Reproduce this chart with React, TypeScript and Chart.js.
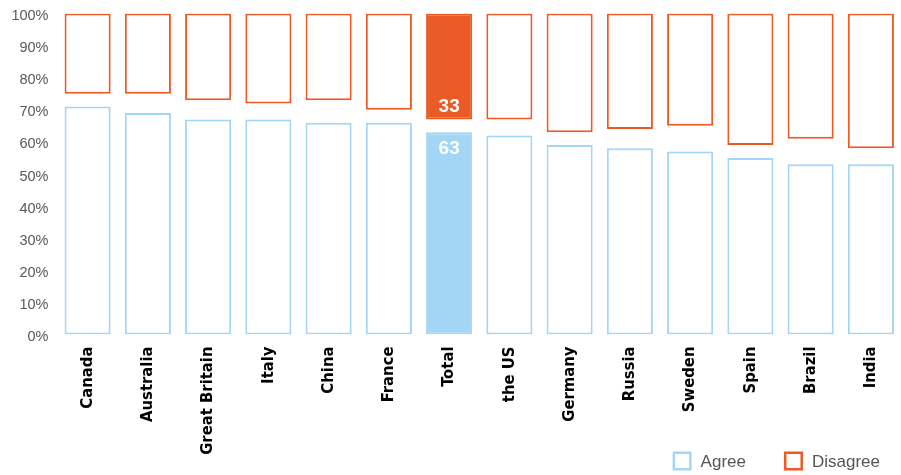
import React, { useEffect, useRef } from "react";
import { Chart, registerables } from "chart.js";

Chart.register(...registerables);

const categories = ["Canada", "Australia", "Great Britain", "Italy", "China", "France", "Total", "the US", "Germany", "Russia", "Sweden", "Spain", "Brazil", "India"];
const agree = [71, 69, 67, 67, 66, 66, 63, 62, 59, 58, 57, 55, 53, 53];
const disagree = [25, 25, 27, 28, 27, 30, 33, 33, 37, 36, 35, 41, 39, 42];
const yTicks = [0, 10, 20, 30, 40, 50, 60, 70, 80, 90, 100];
const seriesNames = ["Agree", "Disagree"];
const highlight = "Total";

const BLUE = "#A3D6F4";
const ORANGE = "#EA5B25";
const LABEL_FONT = "'Liberation Sans', Arial, sans-serif";
const CAT_FONT = "'DejaVu Sans Condensed', 'DejaVu Sans', sans-serif";

const totalLabels = {
  id: "totalLabels",
  afterDatasetsDraw(chart: any) {
    const idx = categories.indexOf(highlight);
    if (idx < 0) return;
    const ctx = chart.ctx;
    ctx.save();
    ctx.fillStyle = "#ffffff";
    ctx.font = `bold 19px ${LABEL_FONT}`;
    ctx.textAlign = "center";
    ctx.textBaseline = "middle";
    const a = chart.getDatasetMeta(0).data[idx];
    const d = chart.getDatasetMeta(1).data[idx];
    ctx.fillText(String(Math.round(agree[idx])), a.x, a.y + 16);
    ctx.fillText(String(Math.round(disagree[idx])), d.x, d.base - 13);
    ctx.restore();
  },
};

const customLegend = {
  id: "customLegend",
  afterDraw(chart: any) {
    const ctx = chart.ctx;
    ctx.save();
    ctx.font = `17px ${LABEL_FONT}`;
    ctx.textBaseline = "middle";
    ctx.textAlign = "left";
    const colors = [BLUE, ORANGE];
    const box = 19;
    const gapText = 9;
    const gapItem = 38;
    const widths = seriesNames.map((n) => box + gapText + ctx.measureText(n).width);
    const total = widths.reduce((s, w) => s + w, 0) + gapItem * (seriesNames.length - 1);
    let x = chart.width - 21 - total;
    const yc = 461;
    seriesNames.forEach((n, i) => {
      ctx.fillStyle = "#ffffff";
      ctx.fillRect(x, yc - box / 2, box, box);
      ctx.strokeStyle = colors[i];
      ctx.lineWidth = 2.5;
      ctx.strokeRect(x + 1.25, yc - box / 2 + 1.25, box - 2.5, box - 2.5);
      ctx.fillStyle = "#555";
      ctx.fillText(n, x + box + gapText, yc + 1);
      x += widths[i] + gapItem;
    });
    ctx.restore();
  },
};

export default function App() {
  const ref = useRef<HTMLCanvasElement>(null);
  useEffect(() => {
    document.body.style.margin = "0";
    const fills = (color: string) => categories.map((c) => (c === highlight ? color : "#ffffff"));
    const common = {
      borderWidth: 2,
      borderSkipped: false,
      grouped: false,
      barPercentage: 0.765,
      categoryPercentage: 1,
    };
    const chart = new Chart(ref.current!, {
      type: "bar",
      data: {
        labels: categories,
        datasets: [
          {
            label: seriesNames[0],
            data: agree.map((v) => [0, v]) as any,
            backgroundColor: fills(BLUE),
            borderColor: BLUE,
            ...common,
          } as any,
          {
            label: seriesNames[1],
            data: disagree.map((v) => [100 - v, 100]) as any,
            backgroundColor: fills(ORANGE),
            borderColor: ORANGE,
            ...common,
          } as any,
        ],
      },
      options: {
        animation: false,
        responsive: true,
        maintainAspectRatio: false,
        layout: { padding: { top: 13.5, right: 0, left: 0, bottom: 0 } },
        plugins: {
          tooltip: { enabled: false },
          legend: { display: false },
        },
        scales: {
          x: {
            grid: { display: false, drawTicks: false },
            border: { display: false },
            ticks: {
              color: "#000",
              maxRotation: 90,
              minRotation: 90,
              padding: 12,
              autoSkip: false,
              font: { family: CAT_FONT, size: 16.5, weight: "bold" },
            },
            afterFit: (s: any) => {
              s.height = 140.5;
              s.paddingLeft = 0;
              s.paddingRight = 0;
            },
          },
          y: {
            min: 0,
            max: 100,
            grid: { display: false, drawTicks: false },
            border: { display: false },
            afterBuildTicks: (s: any) => {
              s.ticks = yTicks.map((v) => ({ value: v }));
            },
            ticks: {
              color: "#595959",
              padding: 9,
              labelOffset: 2.5,
              font: { family: LABEL_FONT, size: 14.5 },
              callback: (v: any) => `${v}%`,
            },
            afterFit: (s: any) => {
              s.width = 57.5;
              s.paddingTop = 0;
              s.paddingBottom = 0;
            },
          },
        },
      },
      plugins: [totalLabels, customLegend],
    });
    return () => chart.destroy();
  }, []);
  return (
    <div style={{ position: "relative", width: 901, height: 475 }}>
      <canvas ref={ref} />
    </div>
  );
}
